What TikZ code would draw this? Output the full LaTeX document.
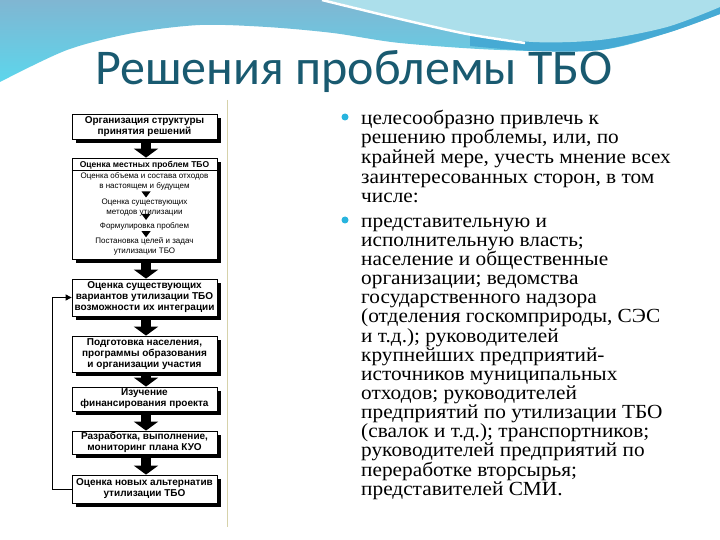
\documentclass[tikz,border=0pt]{standalone}
\usepackage{fontspec}
\setmainfont{Liberation Serif}
\newfontfamily\bodyfont[FakeStretch=1.065]{Liberation Serif}
\newfontfamily\titlefont{Carlito}
\newfontfamily\boxfont{Liberation Sans}
\usetikzlibrary{arrows.meta,calc}
\newcommand{\tightskip}{\lineskiplimit=-100pt\relax}
\definecolor{titlecol}{RGB}{25,90,112}
\definecolor{wavetop}{RGB}{128,182,210}
\definecolor{wavebot}{RGB}{92,214,236}
\definecolor{wavedark}{RGB}{70,170,212}
\definecolor{wavelight}{RGB}{172,223,235}
\definecolor{bulletcol}{RGB}{40,180,222}
\definecolor{panelline}{RGB}{214,210,170}
\tikzset{
  fbox/.style={draw=black, line width=0.8pt, fill=white, minimum width=145pt,
    inner sep=0pt, align=center, font=\boxfont\bfseries\fontsize{10}{11}\selectfont,
    preaction={draw=none, fill=black, transform canvas={xshift=4pt, yshift=-4pt}}},
  hdr/.style={inner sep=0pt, align=center, font=\boxfont\bfseries\fontsize{8.5}{10}\selectfont},
  sub/.style={inner sep=0pt, align=center, font=\boxfont\fontsize{8}{10}\selectfont},
  bigarrow/.style={line width=10pt, -{Triangle[width=24pt,length=9pt]}},
  bodytext/.style={inner sep=0pt, align=left, anchor=north west},
  bullet/.style={circle, fill=bulletcol, minimum size=7pt, inner sep=0pt},
  pics/tri/.style={code={\fill (-4.5,-3) -- (4.5,-3) -- (0,3) -- cycle;}}
}
\begin{document}
\begin{tikzpicture}[x=1pt,y=-1pt]
\useasboundingbox (0,0) rectangle (720,540);
\fill[white] (0,0) rectangle (720,540);
% top waves
\shade[top color=wavetop, bottom color=wavebot] (0,0) -- plot[smooth] coordinates {(0,82) (67,50) (133,33) (200,25) (267,27) (333,33) (400,43) (500,50) (600,50) (667,33) (720,14)} -- (720,0) -- cycle;
\fill[wavedark] (470,0) -- plot[smooth] coordinates {(470,46) (533,51) (600,50) (667,33) (720,14)} -- (720,0) -- cycle;
\fill[wavelight] (327,0) -- plot[smooth] coordinates {(327,0) (400,18) (467,33) (533,42) (600,40) (667,27) (720,7)} -- (720,0) -- cycle;
\draw[white, line width=2.5pt] plot[smooth] coordinates {(322,0) (400,19) (467,34) (525,43)};
% title
\node[anchor=base, inner sep=0pt, text=titlecol, font=\titlefont\fontsize{50}{52}\selectfont] (title) at (354,85) {Решения проблемы ТБО};
% panel line
\draw[panelline, line width=1pt] (227,100) -- (227,527);
% flowchart boxes
\node[fbox, minimum height=25pt] (b1) at (144.5,126.5) {Организация структуры\\принятия решений};
\node[fbox, minimum height=101pt] (b2) at (144.5,208.5) {};
\node[fbox, minimum height=37pt] (b3) at (144.5,297.5) {Оценка существующих\\вариантов утилизации ТБО\\возможности их интеграции};
\node[fbox, minimum height=36pt] (b4) at (144.5,354) {Подготовка населения,\\программы образования\\и организации участия};
\node[fbox, minimum height=24pt] (b5) at (144.5,399) {Изучение\\финансирования проекта};
\node[fbox, minimum height=23pt] (b6) at (144.5,442.5) {Разработка, выполнение,\\мониторинг плана КУО};
\node[fbox, minimum height=28pt] (b7) at (144.5,489) {Оценка новых альтернатив\\утилизации ТБО};
% inside box 2
\node[hdr] (h2) at (144.5,165) {Оценка местных проблем ТБО};
\draw[line width=0.7pt] ($(b2.north west)+(0,13)$) -- ($(b2.north east)+(0,13)$);
\node[sub] (t1) at (144.5,181.5) {Оценка объема и состава отходов\\в настоящем и будущем};
\node[sub] (t2) at (144.5,207.5) {Оценка существующих\\методов утилизации};
\node[sub] (t3) at (144.5,226.5) {Формулировка проблем};
\node[sub] (t4) at (144.5,246) {Постановка целей и задач\\утилизации ТБО};
\pic at ($(t1)!0.5!(t2)+(1.5,0)$) {tri};
\pic at ($(t2)!0.5!(t3)+(1.5,0)$) {tri};
\pic at ($(t3)!0.5!(t4)+(1.5,-2)$) {tri};
% big arrows
\draw[bigarrow] ($(b1.south)+(1.5,2)$) -- ($(b2.north)+(1.5,0)$);
\draw[bigarrow] ($(b2.south)+(1.5,2)$) -- ($(b3.north)+(1.5,0)$);
\draw[bigarrow] ($(b3.south)+(1.5,2)$) -- ($(b4.north)+(1.5,0)$);
\draw[bigarrow] ($(b4.south)+(1.5,2)$) -- ($(b5.north)+(1.5,0)$);
\draw[bigarrow] ($(b5.south)+(1.5,2)$) -- ($(b6.north)+(1.5,0)$);
\draw[bigarrow] ($(b6.south)+(1.5,2)$) -- ($(b7.north)+(1.5,0)$);
% feedback
\coordinate (fb) at (52,0);
\draw[line width=1pt, -{Triangle[width=6pt,length=6pt]}] (b7.west) -- (b7.west -| fb) |- (b3.west);
% right text
\node[bullet] (u1) at (345,117) {};
\node[bullet] (u2) at (345,220) {};
\node[bodytext, font=\bodyfont\fontsize{20}{19.7}\selectfont\tightskip] (p1) at (361,109.5) {целесообразно привлечь к\\решению проблемы, или, по\\крайней мере, учесть мнение всех\\заинтересованных сторон, в том\\числе:};
\node[bodytext, font=\bodyfont\fontsize{20}{19.15}\selectfont\tightskip] (p2) at (361,217.5) {представительную и\\исполнительную власть;\\население и общественные\\организации; ведомства\\государственного надзора\\(отделения госкомприроды, СЭС\\и т.д.); руководителей\\крупнейших предприятий-\\источников муниципальных\\отходов; руководителей\\предприятий по утилизации ТБО\\(свалок и т.д.); транспортников;\\руководителей предприятий по\\переработке вторсырья;\\представителей СМИ.};
\end{tikzpicture}
\end{document}
